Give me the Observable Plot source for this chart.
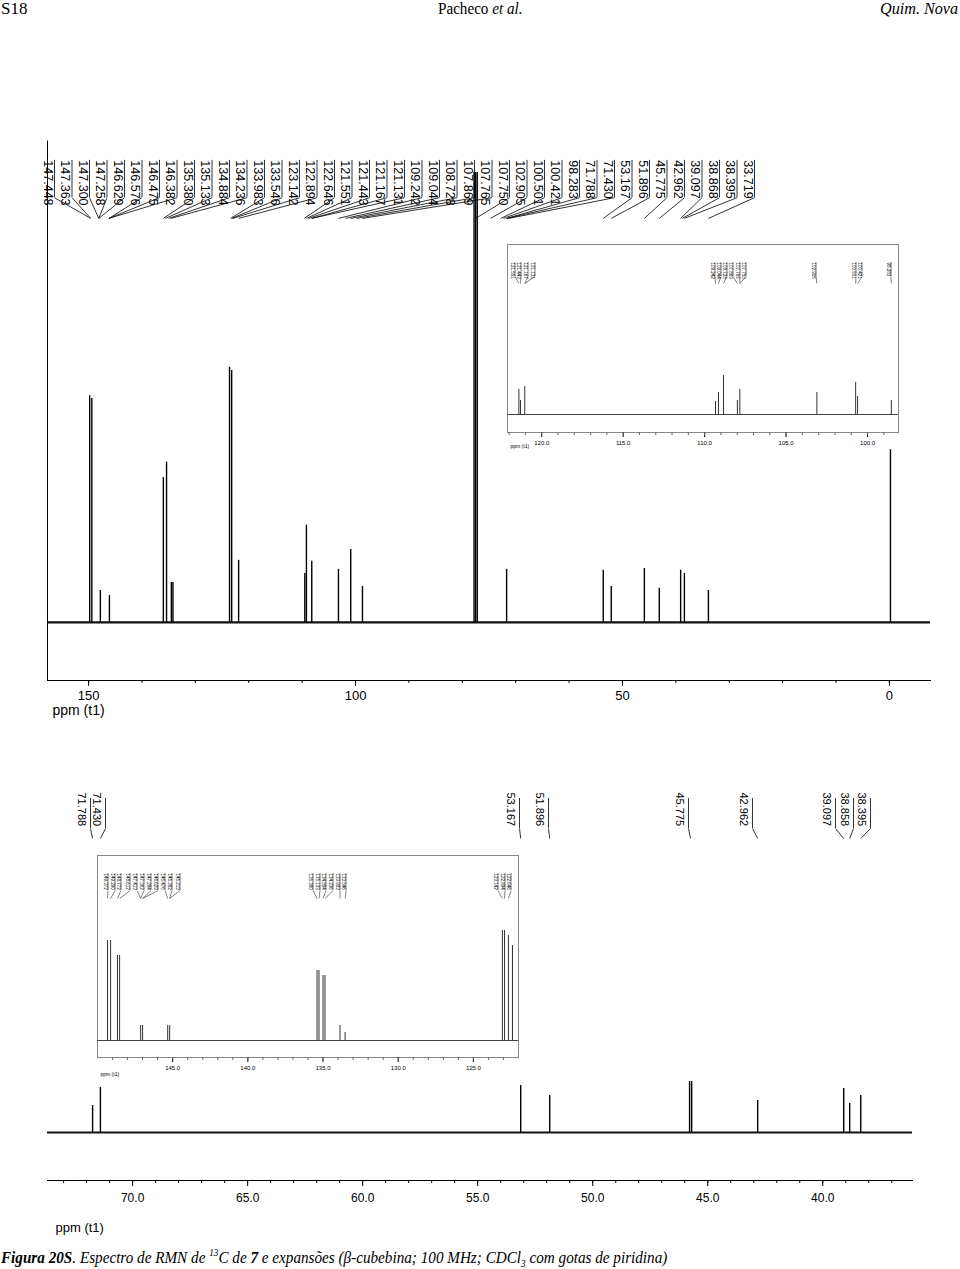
<!DOCTYPE html>
<html><head><meta charset="utf-8">
<script src="https://cdn.jsdelivr.net/npm/d3@7"></script>
<script src="https://cdn.jsdelivr.net/npm/@observablehq/plot@0.6"></script>
<style>
body{margin:0;background:#fff}
#page{position:relative;width:960px;height:1269px;overflow:hidden;font-family:"Liberation Serif",serif;color:#000}
.abs{position:absolute;white-space:nowrap}
.abs svg{overflow:visible}
</style></head><body><div id="page">
<div class="abs" style="left:1px;top:-1px;font-size:17px">S18</div>
<div class="abs" style="left:438px;top:-1px;font-size:17px;transform:scaleX(0.89);transform-origin:0 0">Pacheco <i>et al.</i></div>
<div class="abs" style="left:880px;top:-1px;font-size:17px;font-style:italic;transform:scaleX(0.95);transform-origin:0 0">Quim. Nova</div>
<div id="top" class="abs" style="left:0;top:140px"></div>
<div id="inset1" class="abs" style="left:507px;top:244px"></div>
<div id="bottom" class="abs" style="left:0;top:760px"></div>
<div id="inset2" class="abs" style="left:97px;top:855px"></div>
<div class="abs" style="left:1px;top:1247px;font-size:16.5px;font-style:italic;transform:scaleX(0.92);transform-origin:0 0"><b>Figura 20S</b>. Espectro de RMN de <sup style="font-size:10px">13</sup>C de <b>7</b> e expansões (β-cubebina; 100 MHz; CDCl<sub style="font-size:10px">3</sub> com gotas de piridina)</div>
</div>
<script>
// ---------- DATA ----------
// full spectrum (top)
const topPeakPpm = [149.8,149.4,147.8,146.1,136.0,135.4,134.5,134.2,123.6,123.2,121.9,109.5,109.2,108.2,103.2,100.9,98.7,77.8,77.5,77.2,71.7,53.6,52.1,45.9,43.1,39.1,38.4,33.9,-0.2];
const topPeakInt = [50.4,49.8,7.1,6.0,32.2,35.6,8.9,8.9,56.7,56.0,13.8,10.9,21.6,13.6,11.8,16.2,8.0,100,100,100,11.8,11.6,8.0,12.0,7.6,11.6,10.9,7.1,38.4];
const topLabels = ["147.448","147.363","147.300","147.258","146.629","146.576","146.475","146.382","135.380","135.133","134.884","134.236","133.983","133.546","123.142","122.894","122.646","121.551","121.443","121.167","121.131","109.242","109.044","108.728","107.869","107.765","107.750","102.905","100.501","100.421","98.283","71.788","71.430","53.167","51.896","45.775","42.962","39.097","38.868","38.395","33.719"];
const topLabelTarget = [149.6,149.6,148.1,148.1,148.1,146.2,146.2,146.2,136.0,135.6,135.0,134.6,123.4,123.2,123.0,121.9,109.6,109.2,108.8,108.2,108.2,103.2,101.9,100.9,99.8,98.7,77.5,74.7,72.8,72.3,71.7,71.7,71.3,53.6,52.1,45.9,43.1,39.1,38.8,38.4,33.9];
const topTicks = [150,100,50,0];

// expansion 122-98 ppm (inset 1)
const in1PeakPpm = [121.40,121.30,121.04,109.33,109.15,108.84,107.99,107.84,103.11,100.73,100.61,98.54];
const in1PeakInt = [25,14,28,13,22,39,14,25,22,32,18,14];
const in1Labels = ["121.551","121.443","121.167","121.131","109.242","109.044","108.728","107.869","107.765","107.750","102.905","100.501","100.421","98.283"];
const in1LabelTarget = [121.40,121.30,121.04,121.04,109.33,109.15,108.84,107.99,107.84,107.84,103.11,100.73,100.61,98.54];
const in1Ticks = [120,115,110,105,100];

// expansion 73.7-36 ppm (bottom)
const botPeakPpm = [71.74,71.40,53.13,51.87,45.79,45.70,42.83,39.09,38.83,38.35];
const botPeakInt = [27,45,47,37,51,51,32,44,29,37];
const botLabels = ["71.788","71.430","53.167","51.896","45.775","42.962","39.097","38.858","38.395"];
const botLabelTarget = [71.74,71.40,53.13,51.87,45.75,42.83,39.09,38.83,38.35];
const botTicks = [70,65,60,55,50,45,40];

// expansion 150-122 ppm (inset 2)
const in2PeakPpm = [149.33,149.13,148.67,148.53,147.13,147.0,145.33,145.2,135.4,135.27,135.0,134.87,133.87,133.53,123.07,122.93,122.67,122.4];
const in2PeakInt = [100,100,85,85,15,15,15,15,70,70,65,65,15,8,110,110,105,95];
const in2Labels = ["149.372","149.290","148.772","148.612","147.413","147.362","147.284","146.629","145.476","145.382","145.213","135.380","135.133","134.884","134.236","133.983","133.546","123.142","122.894","122.646"];
const in2LabelTarget = [149.33,149.13,148.67,148.53,147.13,147.13,147.0,147.0,145.33,145.2,145.2,135.4,135.27,135.0,134.87,133.87,133.53,123.07,122.93,122.67];
const in2Ticks = [145,140,135,130,125];

// ---------- helpers ----------
const SANS = "Liberation Sans, Arial, sans-serif";
const pk = (p, h) => p.map((v, i) => ({p: v, h: h[i]}));
const lab = (t, tg) => t.map((v, i) => ({t: v, tg: tg[i], i}));

// ---------- TOP (full spectrum) ----------
{
  const W = 960, H = 590, mL = 47, mR = 30, mT = 32, mB = 50;
  const xd = [157.7, -7.7], yd = [-12.9, 100];
  const sx = Plot.scale({x: {domain: xd, range: [mL, W - mR]}});
  const L = lab(topLabels, topLabelTarget).map(d => ({...d,
    s: sx.invert(47 + 17.5 * d.i), sl: sx.invert(47 + 17.5 * d.i + 7)}));
  const chart = Plot.plot({
    width: W, height: H, marginLeft: mL, marginRight: mR, marginTop: mT, marginBottom: mB,
    x: {domain: xd}, y: {domain: yd, axis: null},
    style: {fontFamily: SANS, fontSize: "13px", background: "transparent", overflow: "visible"},
    marks: [
      Plot.ruleX([xd[0]], {y1: yd[0], y2: 107, stroke: "#000", strokeWidth: 1}),
      Plot.frame({anchor: "bottom", stroke: "#000"}),
      Plot.ruleY([0], {x1: xd[0], x2: xd[1], stroke: "#111", strokeWidth: 2.2}),
      Plot.ruleX(pk(topPeakPpm, topPeakInt), {x: "p", y1: 0, y2: "h", stroke: "#000", strokeWidth: 1.4}),
      Plot.axisX(topTicks, {anchor: "bottom", tickSize: 6, tickPadding: 4, fontSize: 13, label: null, tickFormat: d => String(d)}),
      Plot.axisX(d3.range(0, 151, 10), {anchor: "bottom", tickSize: 3, tickFormat: () => "", label: null}),
      Plot.text(["ppm (t1)"], {frameAnchor: "bottom-left", dx: 5, dy: 34, textAnchor: "start", fontSize: 14}),
      Plot.text(L, {x: "s", y: 102.7, text: "t", rotate: 90, textAnchor: "start", fontSize: 12.5}),
      Plot.ruleX(L, {x: "sl", y1: 102.7, y2: 94.4, stroke: "#000", strokeWidth: 0.8}),
      Plot.link(L, {x1: "sl", y1: 94.4, x2: "tg", y2: 89.8, stroke: "#000", strokeWidth: 0.8})
    ]
  });
  document.getElementById("top").append(chart);
}

// ---------- INSET 1 ----------
{
  const W = 392, H = 215, mL = 0, mR = 1, mT = 0, mB = 27;
  const xd = [122.1, 98.1], yd = [-18, 170];
  const sx = Plot.scale({x: {domain: xd, range: [mL, W - mR]}});
  const slots = [5,11,18,25,205,211,217,223,230,236,306,346,352,381];
  const L = lab(in1Labels, in1LabelTarget).map(d => ({...d, s: sx.invert(slots[d.i]), sl: sx.invert(slots[d.i] + 2.5)}));
  const chart = Plot.plot({
    width: W, height: H, marginLeft: mL, marginRight: mR, marginTop: mT, marginBottom: mB,
    x: {domain: xd}, y: {domain: yd, axis: null},
    style: {fontFamily: SANS, fontSize: "6px", background: "transparent", overflow: "visible"},
    marks: [
      Plot.frame({stroke: "#888"}),
      Plot.ruleY([0], {x1: xd[0], x2: xd[1], stroke: "#444", strokeWidth: 1}),
      Plot.ruleX(pk(in1PeakPpm, in1PeakInt), {x: "p", y1: 0, y2: "h", stroke: "#333", strokeWidth: 1}),
      Plot.axisX(in1Ticks, {anchor: "bottom", tickSize: 5, tickPadding: 3, fontSize: 6, label: null, tickFormat: d => d.toFixed(1)}),
      Plot.axisX(d3.range(99, 123, 1), {anchor: "bottom", tickSize: 3, tickFormat: () => "", label: null, stroke: "#666"}),
      Plot.text(["ppm (t1)"], {frameAnchor: "bottom-left", dx: 3, dy: 15, textAnchor: "start", fontSize: 5}),
      Plot.text(L, {x: "s", y: 152, text: "t", rotate: 90, textAnchor: "start", fontSize: 4.5, fill: "#000"}),
      Plot.ruleX(L, {x: "sl", y1: 152, y2: 138, stroke: "#000", strokeWidth: 0.5}),
      Plot.link(L, {x1: "sl", y1: 138, x2: "tg", y2: 131, stroke: "#000", strokeWidth: 0.5})
    ]
  });
  document.getElementById("inset1").append(chart);
}

// ---------- BOTTOM (expansion) ----------
{
  const W = 960, H = 490, mL = 47, mR = 48, mT = 40, mB = 70;
  const xd = [73.7, 36.1], yd = [-48, 332];
  const sx = Plot.scale({x: {domain: xd, range: [mL, W - mR]}});
  const slots = [81, 96, 510, 539, 679, 743, 826, 844, 861];
  const L = lab(botLabels, botLabelTarget).map(d => ({...d, s: sx.invert(slots[d.i]), sl: sx.invert(slots[d.i] + 9)}));
  const chart = Plot.plot({
    width: W, height: H, marginLeft: mL, marginRight: mR, marginTop: mT, marginBottom: mB,
    x: {domain: xd}, y: {domain: yd, axis: null},
    style: {fontFamily: SANS, fontSize: "12px", background: "transparent", overflow: "visible"},
    marks: [
      Plot.frame({anchor: "bottom", stroke: "#000"}),
      Plot.ruleY([0], {x1: xd[0], x2: xd[1], stroke: "#111", strokeWidth: 2.2}),
      Plot.ruleX(pk(botPeakPpm, botPeakInt), {x: "p", y1: 0, y2: "h", stroke: "#000", strokeWidth: 1.4}),
      Plot.axisX(botTicks, {anchor: "bottom", tickSize: 6, tickPadding: 7, fontSize: 12, label: null, tickFormat: d => d.toFixed(1)}),
      Plot.axisX(d3.range(37, 74, 1), {anchor: "bottom", tickSize: 3, tickFormat: () => "", label: null}),
      Plot.text(["ppm (t1)"], {frameAnchor: "bottom-left", dx: 8, dy: 51, textAnchor: "start", fontSize: 13}),
      Plot.text(L, {x: "s", y: 340, text: "t", rotate: 90, textAnchor: "start", fontSize: 11, style: "letter-spacing:1.5px"}),
      Plot.ruleX(L, {x: "sl", y1: 334, y2: 304, stroke: "#000", strokeWidth: 0.8}),
      Plot.link(L, {x1: "sl", y1: 304, x2: "tg", y2: 294, stroke: "#000", strokeWidth: 0.8})
    ]
  });
  document.getElementById("bottom").append(chart);
}

// ---------- INSET 2 ----------
{
  const W = 422, H = 235, mL = 0, mR = 1, mT = 0, mB = 33;
  const xd = [150, 122], yd = [-17, 185];
  const sx = Plot.scale({x: {domain: xd, range: [mL, W - mR]}});
  const slots = [8,15,21,30,37,44,51,58,65,72,80,213,220,226,233,240,246,398,405,411];
  const L = lab(in2Labels, in2LabelTarget).map(d => ({...d, s: sx.invert(slots[d.i]), sl: sx.invert(slots[d.i] + 2.5)}));
  const chart = Plot.plot({
    width: W, height: H, marginLeft: mL, marginRight: mR, marginTop: mT, marginBottom: mB,
    x: {domain: xd}, y: {domain: yd, axis: null},
    style: {fontFamily: SANS, fontSize: "6px", background: "transparent", overflow: "visible"},
    marks: [
      Plot.frame({stroke: "#888"}),
      Plot.ruleY([0], {x1: xd[0], x2: xd[1], stroke: "#444", strokeWidth: 1}),
      Plot.ruleX(pk(in2PeakPpm, in2PeakInt), {x: "p", y1: 0, y2: "h", stroke: "#333", strokeWidth: 1}),
      Plot.axisX(in2Ticks, {anchor: "bottom", tickSize: 5, tickPadding: 3, fontSize: 6, label: null, tickFormat: d => d.toFixed(1)}),
      Plot.axisX(d3.range(123, 150, 1), {anchor: "bottom", tickSize: 3, tickFormat: () => "", label: null, stroke: "#666"}),
      Plot.text(["ppm (t1)"], {frameAnchor: "bottom-left", dx: 3, dy: 18, textAnchor: "start", fontSize: 5}),
      Plot.text(L, {x: "s", y: 167, text: "t", rotate: 90, textAnchor: "start", fontSize: 4.5, fill: "#000"}),
      Plot.ruleX(L, {x: "sl", y1: 167, y2: 150, stroke: "#000", strokeWidth: 0.5}),
      Plot.link(L, {x1: "sl", y1: 150, x2: "tg", y2: 142, stroke: "#000", strokeWidth: 0.5})
    ]
  });
  document.getElementById("inset2").append(chart);
}
</script>
</body></html>
